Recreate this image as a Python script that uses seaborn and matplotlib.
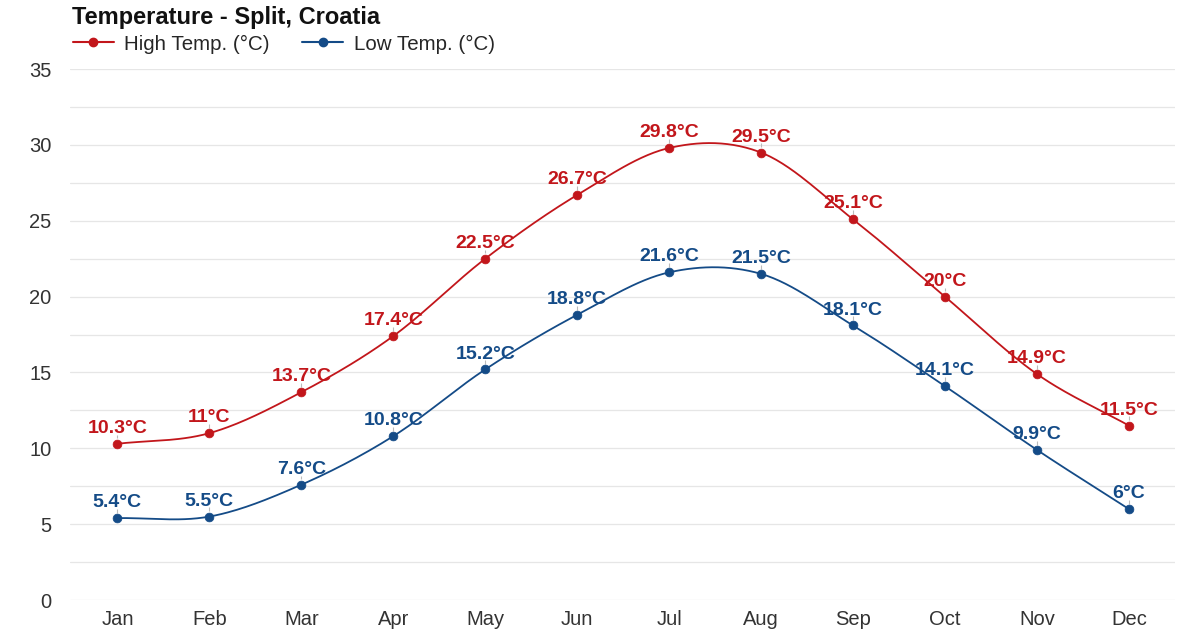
import numpy as np
import pandas as pd
import seaborn as sns
import matplotlib.pyplot as plt
from matplotlib.lines import Line2D

# data
months = ['Jan', 'Feb', 'Mar', 'Apr', 'May', 'Jun', 'Jul', 'Aug', 'Sep', 'Oct', 'Nov', 'Dec']
high_temp = [10.3, 11, 13.7, 17.4, 22.5, 26.7, 29.8, 29.5, 25.1, 20, 14.9, 11.5]
low_temp = [5.4, 5.5, 7.6, 10.8, 15.2, 18.8, 21.6, 21.5, 18.1, 14.1, 9.9, 6]

RED = '#c2161b'
BLUE = '#144b87'


def smooth(x, y, n=30):
    # catmull-rom style curve, only used to draw the line between the points
    x = np.asarray(x, float)
    y = np.asarray(y, float)
    m = np.gradient(y, x)
    xs, ys = [], []
    for i in range(len(x) - 1):
        t = np.linspace(0, 1, n, endpoint=(i == len(x) - 2))
        h = x[i + 1] - x[i]
        h00 = 2 * t**3 - 3 * t**2 + 1
        h10 = t**3 - 2 * t**2 + t
        h01 = -2 * t**3 + 3 * t**2
        h11 = t**3 - t**2
        xs.append(x[i] + t * h)
        ys.append(h00 * y[i] + h10 * h * m[i] + h01 * y[i + 1] + h11 * h * m[i + 1])
    return np.concatenate(xs), np.concatenate(ys)


sns.set_style('white')
plt.rcParams['font.family'] = ['Liberation Sans', 'DejaVu Sans']

fig = plt.figure(figsize=(12, 6.4), dpi=100)
ax = fig.add_axes([0.058, 0.0625, 0.921, 0.8295])

pos = np.arange(len(months))
for vals, col in [(high_temp, RED), (low_temp, BLUE)]:
    xs, ys = smooth(pos, vals)
    sns.lineplot(x=xs, y=ys, ax=ax, color=col, linewidth=1.3, sort=False)
    sns.scatterplot(x=pos, y=vals, ax=ax, color=col, s=40, edgecolor=col, zorder=3)
    for p, v in zip(pos, vals):
        ax.vlines(p, v + 0.35, v + 0.6, color='#bbbbbb', linewidth=0.8, zorder=2)
        ax.annotate(f'{v:g}°C', (p, v), xytext=(0, 5), textcoords='offset points',
                    ha='center', va='bottom', color=col, fontsize=14, fontweight='bold')

ax.set_xlim(-0.52, 11.5)
ax.set_ylim(0, 35)
ax.set_xticks(pos)
ax.set_xticklabels(months)
ax.set_yticks(np.arange(0, 35.1, 5))
ax.set_yticks(np.arange(0, 35.1, 2.5), minor=True)
ax.grid(axis='y', which='both', color='#e6e6e6', linewidth=0.9)
ax.set_axisbelow(True)
ax.tick_params(axis='both', length=0, labelsize=14.5, labelcolor='#333333')
ax.tick_params(axis='x', pad=7)
ax.tick_params(axis='y', pad=13)
for s in ax.spines.values():
    s.set_visible(False)

fig.text(0.06, 0.972, 'Temperature - Split, Croatia', fontsize=17, fontweight='bold',
         ha='left', va='center', color='#111111')
handles = [Line2D([], [], color=RED, marker='o', markersize=6, linewidth=1.5),
           Line2D([], [], color=BLUE, marker='o', markersize=6, linewidth=1.5)]
fig.legend(handles, ['High Temp. (°C)', 'Low Temp. (°C)'], loc='center left',
           bbox_to_anchor=(0.045, 0.931), ncol=2, frameon=False, fontsize=14.8,
           handlelength=2.0, columnspacing=1.6, handletextpad=0.5)

fig.savefig('out.png', dpi=100)
